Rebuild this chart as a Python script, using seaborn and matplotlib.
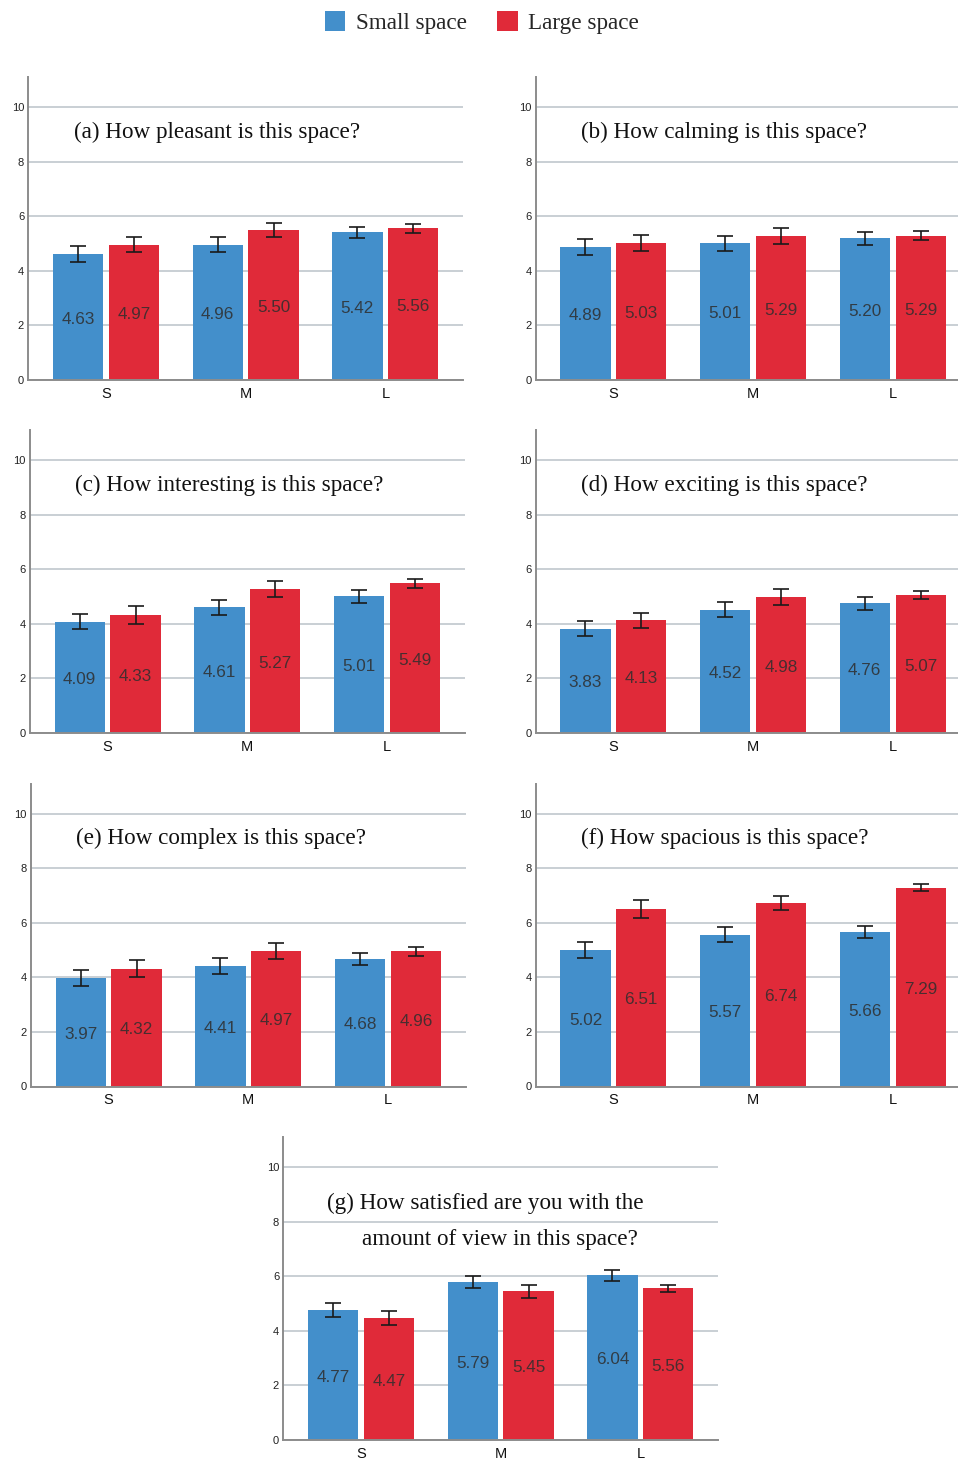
import numpy as np
import pandas as pd
import matplotlib
matplotlib.use("Agg")
import matplotlib.pyplot as plt
import seaborn as sns
from matplotlib.patches import Patch

# ---------------- data ----------------
sizes = ["S", "M", "L"]
groups = ["Small space", "Large space"]

title_a = "(a) How pleasant is this space?"
a_small = [4.63, 4.96, 5.42]
a_large = [4.97, 5.50, 5.56]
a_small_err = [0.29, 0.27, 0.21]
a_large_err = [0.29, 0.27, 0.15]

title_b = "(b) How calming is this space?"
b_small = [4.89, 5.01, 5.20]
b_large = [5.03, 5.29, 5.29]
b_small_err = [0.29, 0.26, 0.23]
b_large_err = [0.29, 0.29, 0.16]

title_c = "(c) How interesting is this space?"
c_small = [4.09, 4.61, 5.01]
c_large = [4.33, 5.27, 5.49]
c_small_err = [0.27, 0.27, 0.23]
c_large_err = [0.32, 0.29, 0.16]

title_d = "(d) How exciting is this space?"
d_small = [3.83, 4.52, 4.76]
d_large = [4.13, 4.98, 5.07]
d_small_err = [0.27, 0.27, 0.23]
d_large_err = [0.29, 0.29, 0.15]

title_e = "(e) How complex is this space?"
e_small = [3.97, 4.41, 4.68]
e_large = [4.32, 4.97, 4.96]
e_small_err = [0.30, 0.29, 0.23]
e_large_err = [0.31, 0.31, 0.17]

title_f = "(f) How spacious is this space?"
f_small = [5.02, 5.57, 5.66]
f_large = [6.51, 6.74, 7.29]
f_small_err = [0.29, 0.27, 0.21]
f_large_err = [0.32, 0.26, 0.13]

title_g1 = "(g) How satisfied are you with the"
title_g2 = "amount of view in this space?"
g_small = [4.77, 5.79, 6.04]
g_large = [4.47, 5.45, 5.56]
g_small_err = [0.24, 0.23, 0.19]
g_large_err = [0.26, 0.23, 0.13]

y_ticks = [0, 2, 4, 6, 8, 10]

# ---------------- style ----------------
BLUE = "#438fcb"
RED = "#e02a39"
GRID = "#c5ccd1"
SPINE = "#8c8c8c"

sns.set_theme(style="white")
plt.rcParams["font.family"] = ["Liberation Sans", "DejaVu Sans"]

W, H = 958, 1459
fig = plt.figure(figsize=(W / 100, H / 100), dpi=100)

AX_W = 434.7
AX_H = 302.6

def rect(left_px, zero_px):
    return [left_px / W, (H - zero_px) / H, AX_W / W, AX_H / H]

panels = [
    (rect(28.3, 380.0), [title_a], a_small, a_large, a_small_err, a_large_err),
    (rect(535.7, 380.0), [title_b], b_small, b_large, b_small_err, b_large_err),
    (rect(30.0, 733.0), [title_c], c_small, c_large, c_small_err, c_large_err),
    (rect(535.7, 733.0), [title_d], d_small, d_large, d_small_err, d_large_err),
    (rect(31.0, 1086.5), [title_e], e_small, e_large, e_small_err, e_large_err),
    (rect(535.7, 1086.5), [title_f], f_small, f_large, f_small_err, f_large_err),
    (rect(283.3, 1440.0), [title_g1, title_g2], g_small, g_large, g_small_err, g_large_err),
]

for r, titles, small, large, small_err, large_err in panels:
    ax = fig.add_axes(r)
    df = pd.DataFrame({
        "size": sizes * 2,
        "group": [groups[0]] * 3 + [groups[1]] * 3,
        "value": list(small) + list(large),
    })
    sns.barplot(data=df, x="size", y="value", hue="group", order=sizes,
                hue_order=groups, palette=[BLUE, RED], errorbar=None,
                width=0.8, gap=0.1, legend=False, ax=ax, zorder=2,
                saturation=1, edgecolor="none")
    errs = [small_err, large_err]
    vals = [small, large]
    bar_conts = list(ax.containers)[:2]
    for ci, cont in enumerate(bar_conts):
        xs = [b.get_x() + b.get_width() / 2 for b in cont.patches]
        ax.errorbar(xs, vals[ci], yerr=errs[ci], fmt="none", ecolor="#1a1a1a",
                    elinewidth=1.2, capsize=6, capthick=1.2, zorder=4)
        for x, v in zip(xs, vals[ci]):
            ax.text(x, v / 2 - 0.08, f"{v:.2f}", ha="center", va="center",
                    fontsize=12.3, color="#2e2e2e", alpha=0.85, zorder=5)
    ax.set_xlim(-0.556, 2.556)
    ax.set_ylim(0, 11.1)
    ax.set_yticks(y_ticks)
    ax.set_yticklabels([str(t) for t in y_ticks])
    ax.yaxis.grid(True, color=GRID, linewidth=1.3, zorder=0)
    ax.set_axisbelow(True)
    ax.set_xlabel("")
    ax.set_ylabel("")
    ax.tick_params(axis="y", length=0, pad=3, labelsize=8, labelcolor="#222222")
    ax.tick_params(axis="x", length=0, pad=5, labelsize=10.5, labelcolor="#111111")
    for s in ["top", "right"]:
        ax.spines[s].set_visible(False)
    for s in ["left", "bottom"]:
        ax.spines[s].set_color(SPINE)
        ax.spines[s].set_linewidth(1.4)
    serif = ["Liberation Serif", "DejaVu Serif"]
    if len(titles) == 1:
        ax.text(-0.232, 9.1, titles[0], ha="left", va="center",
                fontsize=16.7, family=serif, color="#111111", zorder=6)
    else:
        ax.text(-0.24, 8.67, titles[0], ha="left", va="center",
                fontsize=16.7, family=serif, color="#111111", zorder=6)
        ax.text(0.007, 7.37, titles[1], ha="left", va="center",
                fontsize=16.7, family=serif, color="#111111", zorder=6)

handles = [Patch(facecolor=BLUE, edgecolor="none"), Patch(facecolor=RED, edgecolor="none")]
fig.legend(handles, groups, loc="center", bbox_to_anchor=(0.503, 1 - 22.5 / H),
           ncol=2, frameon=False, handlelength=0.9, handleheight=0.95,
           handletextpad=0.45, columnspacing=1.3,
           prop={"family": ["Liberation Serif", "DejaVu Serif"], "size": 16.7})

fig.savefig("out.png", dpi=100)
